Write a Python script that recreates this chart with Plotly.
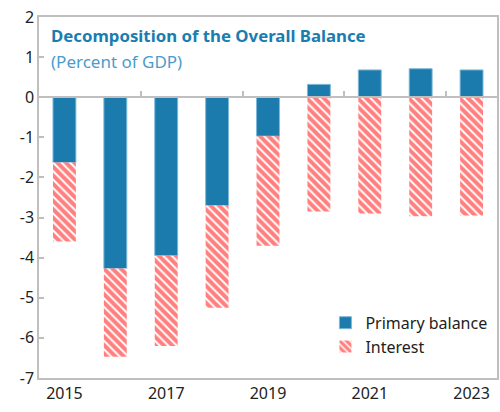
import plotly.graph_objects as go

years = [2015, 2016, 2017, 2018, 2019, 2020, 2021, 2022, 2023]
primary_balance = [-1.63, -4.27, -3.95, -2.7, -0.97, 0.32, 0.68, 0.71, 0.68]
interest = [-1.97, -2.2, -2.25, -2.55, -2.73, -2.85, -2.9, -2.97, -2.95]
x_tick_labels = [2015, 2017, 2019, 2021, 2023]
y_ticks = [2, 1, 0, -1, -2, -3, -4, -5, -6, -7]

FONT = "Noto Sans"
BLUE = "#1B7BAD"
GRAY = "#BFBFBF"

fig = go.Figure()
fig.add_trace(go.Bar(
    x=years, y=primary_balance, name="Primary balance",
    marker=dict(color=BLUE, line=dict(color="#7DB8D8", width=1)),
    width=0.45,
))
fig.add_trace(go.Bar(
    x=years, y=interest, name="Interest",
    marker=dict(color="white", line=dict(width=0),
                pattern=dict(shape="\\", fgcolor="#FF0000", bgcolor="white",
                             size=6, solidity=0.68)),
    width=0.45,
))
# invisible trace to carry the zero-line axis
fig.add_trace(go.Scatter(x=[years[0]], y=[0], xaxis="x2", mode="markers",
                         marker=dict(opacity=0), showlegend=False, hoverinfo="skip"))

fig.update_layout(
    width=500, height=412,
    margin=dict(l=39, r=1, t=17, b=34),
    barmode="relative",
    plot_bgcolor="white", paper_bgcolor="white",
    font=dict(family=FONT, size=16, color="#222222"),
    showlegend=True,
    legend=dict(x=0.99, y=0.2, xanchor="right", yanchor="top",
                bgcolor="rgba(0,0,0,0)", font=dict(size=16, family=FONT),
                itemwidth=30, tracegroupgap=4),
    xaxis=dict(range=[2014.5, 2023.5], tickvals=x_tick_labels,
               ticktext=[str(v) for v in x_tick_labels],
               showline=True, linecolor=GRAY, linewidth=1.5, mirror=True,
               ticks="", showgrid=False, zeroline=False,
               tickfont=dict(size=16, family=FONT)),
    xaxis2=dict(range=[2014.5, 2023.5], overlaying="x", anchor="free",
                position=7 / 9, side="bottom",
                tickvals=[2016.5, 2018.5, 2020.5, 2022.5],
                ticks="inside", ticklen=5, tickcolor=GRAY, tickwidth=1.5,
                showticklabels=False, showline=True, linecolor=GRAY,
                linewidth=1.5, showgrid=False, zeroline=False),
    yaxis=dict(range=[-7, 2], tickvals=y_ticks,
               ticktext=[str(v) for v in y_ticks],
               showline=True, linecolor=GRAY, linewidth=1.5, mirror=True,
               ticks="inside", ticklen=5, tickcolor=GRAY, tickwidth=1.5,
               showgrid=False, zeroline=False,
               tickfont=dict(size=16, family=FONT)),
    annotations=[
        dict(text="<b>Decomposition of the Overall Balance</b>",
             xref="paper", yref="paper", x=0.022, y=0.985,
             xanchor="left", yanchor="top", showarrow=False,
             font=dict(size=16.8, family=FONT, color="#1A7DB0")),
        dict(text="(Percent of GDP)",
             xref="paper", yref="paper", x=0.022, y=0.915,
             xanchor="left", yanchor="top", showarrow=False,
             font=dict(size=17, family=FONT, color="#4B9CCB")),
    ],
)

fig.write_html("out.html", config={"displayModeBar": False},
               post_script="document.body.style.margin='0';")
